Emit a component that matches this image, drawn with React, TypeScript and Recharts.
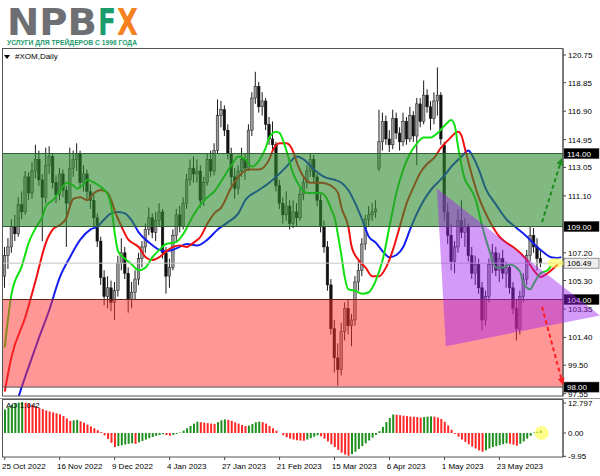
import React from 'react';
import {
    ComposedChart,
    Bar,
    Line,
    XAxis,
    YAxis,
    ReferenceArea,
    ReferenceLine,
    Cell,
} from 'recharts';

// ─── Data ─────────────────────────────────────────────────────────────────────

const dateLabels = [
    '25 Oct 2022', '16 Nov 2022', '9 Dec 2022', '4 Jan 2023', '27 Jan 2023',
    '21 Feb 2023', '15 Mar 2023', '6 Apr 2023', '1 May 2023', '23 May 2023',
];
const dateTickIdx = [0, 16, 32, 48, 64, 80, 96, 112, 128, 144];

const priceTicks = [120.75, 118.85, 116.9, 114.95, 113.05, 111.1, 107.2, 105.3, 103.35, 101.4, 99.5, 97.55];
const aoTicks = [12.797, 0, -9.95];

// daily candles: [open, high, low, close]
const candles = [
    [105.6, 107.6, 104.8, 107.0], [107.0, 108.2, 106.1, 107.6], [107.6, 109.5, 107.2, 109.0], [109.0, 109.8, 108.0, 108.5],
    [108.5, 111.0, 108.3, 110.5], [110.5, 111.4, 109.5, 110.0], [110.0, 112.8, 109.8, 112.4], [112.4, 112.7, 110.8, 111.3],
    [111.3, 113.4, 110.9, 112.8], [112.8, 114.6, 112.3, 113.6], [113.6, 114.2, 111.8, 112.2], [112.2, 112.6, 108.0, 111.0],
    [111.0, 114.4, 110.6, 113.2], [113.2, 114.5, 112.6, 113.8], [113.8, 114.0, 111.6, 112.0], [112.0, 112.5, 110.6, 111.2],
    [111.2, 113.0, 110.8, 112.6], [112.6, 112.9, 111.0, 111.5], [111.5, 111.8, 107.6, 110.6], [110.6, 114.4, 110.2, 113.0],
    [113.0, 114.2, 112.4, 113.6], [113.6, 114.7, 112.8, 114.0], [114.0, 114.2, 111.6, 112.0], [112.0, 113.2, 111.4, 112.6],
    [112.6, 112.9, 110.8, 111.4], [111.4, 111.9, 110.2, 110.8], [110.8, 111.2, 109.0, 109.6], [109.6, 109.9, 107.6, 108.0],
    [108.0, 108.3, 105.0, 105.5], [105.5, 106.0, 103.6, 104.2], [104.2, 105.6, 103.4, 104.8], [104.8, 105.3, 103.2, 103.8],
    [103.8, 105.2, 102.6, 104.6], [104.6, 107.0, 104.2, 106.5], [106.5, 108.2, 106.0, 107.2], [107.2, 107.6, 105.4, 105.8],
    [105.8, 106.2, 103.1, 104.0], [104.0, 105.2, 103.4, 104.5], [104.5, 106.0, 104.0, 105.4], [105.4, 107.2, 105.0, 106.8],
    [106.8, 108.0, 106.2, 107.6], [107.6, 109.2, 107.2, 108.8], [108.8, 110.3, 108.4, 109.6], [109.6, 109.9, 108.2, 108.6],
    [108.6, 110.0, 108.0, 109.4], [109.4, 110.6, 109.0, 110.0], [110.0, 110.2, 106.8, 107.2], [107.2, 107.6, 104.4, 105.6],
    [105.6, 106.8, 104.8, 106.2], [106.2, 108.8, 106.0, 108.4], [108.4, 110.2, 108.0, 109.8], [109.8, 110.4, 108.6, 109.0],
    [109.0, 111.0, 108.8, 110.6], [110.6, 112.6, 110.2, 112.2], [112.2, 113.6, 111.8, 113.0], [113.0, 113.8, 112.0, 112.6],
    [112.6, 113.6, 112.0, 112.8], [112.8, 113.2, 110.3, 110.8], [110.8, 112.4, 110.4, 112.0], [112.0, 114.0, 111.8, 113.6],
    [113.6, 114.2, 112.4, 112.8], [112.8, 114.7, 112.5, 114.2], [114.2, 117.7, 114.0, 116.6], [116.6, 117.6, 115.8, 117.0],
    [117.0, 117.3, 115.2, 115.6], [115.6, 116.0, 113.6, 114.0], [114.0, 114.4, 111.8, 112.4], [112.4, 113.0, 110.9, 111.6],
    [111.6, 113.2, 111.2, 112.8], [112.8, 114.4, 112.4, 113.6], [113.6, 114.0, 112.2, 113.0], [113.0, 116.0, 112.8, 115.6],
    [115.6, 118.2, 115.2, 117.8], [117.8, 119.6, 117.4, 118.6], [118.6, 118.9, 116.8, 117.2], [117.2, 118.2, 116.6, 117.6],
    [117.6, 117.8, 115.6, 116.0], [116.0, 116.5, 114.6, 115.0], [115.0, 116.2, 114.2, 114.6], [114.6, 114.8, 111.4, 111.8],
    [111.8, 112.2, 110.2, 110.6], [110.6, 111.0, 109.2, 109.8], [109.8, 111.4, 109.4, 110.4], [110.4, 110.8, 108.8, 109.2],
    [109.2, 110.8, 108.9, 110.0], [110.0, 110.6, 109.0, 109.6], [109.6, 111.6, 109.4, 111.2], [111.2, 112.4, 110.8, 112.0],
    [112.0, 113.2, 111.6, 112.8], [112.8, 114.0, 112.4, 113.6], [113.6, 113.9, 112.0, 112.4], [112.4, 112.6, 110.4, 110.8],
    [110.8, 111.2, 108.6, 109.0], [109.0, 109.4, 107.2, 107.6], [107.6, 108.0, 104.6, 105.0], [105.0, 105.4, 101.6, 102.0],
    [102.0, 102.6, 99.0, 100.0], [100.0, 101.0, 98.1, 99.2], [99.2, 102.4, 98.8, 101.8], [101.8, 103.8, 101.2, 103.4],
    [103.4, 104.0, 101.6, 102.2], [102.2, 103.0, 100.8, 102.6], [102.6, 105.6, 102.2, 105.2], [105.2, 106.6, 104.6, 106.0],
    [106.0, 108.2, 105.6, 107.8], [107.8, 109.8, 107.4, 109.5], [109.5, 110.4, 109.0, 109.8], [109.8, 110.6, 109.4, 110.0],
    [110.0, 110.8, 109.6, 110.2], [113.0, 117.0, 112.8, 114.8], [114.8, 116.8, 114.2, 116.2], [116.2, 116.6, 114.6, 115.0],
    [115.0, 115.6, 114.1, 114.6], [114.6, 117.0, 114.3, 116.4], [116.4, 116.8, 115.0, 115.4], [115.4, 115.8, 114.2, 114.8],
    [114.8, 116.8, 114.5, 116.2], [116.2, 116.5, 114.6, 115.0], [115.0, 117.2, 114.8, 116.6], [116.6, 116.9, 114.8, 115.2],
    [115.2, 117.8, 113.2, 117.4], [117.4, 117.8, 115.8, 116.2], [116.2, 119.0, 116.0, 118.0], [118.0, 118.4, 116.8, 117.2],
    [117.2, 117.6, 115.6, 116.4], [116.4, 118.2, 116.0, 117.6], [117.6, 119.9, 116.6, 118.0], [118.0, 118.2, 114.6, 115.0],
    [114.6, 114.8, 109.4, 110.0], [110.0, 110.6, 107.8, 108.4], [108.4, 109.2, 106.0, 106.6], [106.6, 108.0, 105.8, 107.6],
    [107.6, 110.2, 107.2, 109.4], [109.4, 110.8, 108.2, 108.6], [108.6, 109.6, 107.6, 109.0], [109.0, 109.2, 106.6, 107.0],
    [107.0, 107.6, 105.4, 105.8], [105.8, 107.0, 105.0, 106.4], [106.4, 106.8, 104.4, 104.8], [104.8, 105.2, 101.9, 102.6],
    [102.6, 104.6, 102.2, 104.2], [104.2, 106.8, 103.8, 106.4], [106.4, 107.8, 105.8, 107.2], [107.2, 107.6, 105.6, 106.0],
    [106.0, 107.2, 105.2, 106.8], [106.8, 107.4, 105.4, 105.8], [105.8, 106.6, 104.8, 106.2], [106.2, 106.4, 104.4, 104.8],
    [104.8, 105.2, 103.0, 103.4], [103.4, 104.0, 101.2, 102.0], [102.0, 104.6, 101.6, 104.2], [104.2, 105.8, 103.8, 105.4],
    [105.4, 107.4, 105.0, 107.0], [107.0, 109.0, 106.6, 108.4], [108.4, 108.9, 107.2, 107.6], [107.6, 108.2, 106.0, 106.8],
    [106.8, 107.4, 106.2, 106.49],
];

// Alligator lines, read as [bar index, price]
const lips = [
    [0, 100.7], [2, 104.4], [5, 106.3], [7, 107.9], [9, 108.9], [11, 109.7], [12, 110.4], [14, 110.8], [16, 111.4],
    [18, 112.0], [20, 111.8], [21, 111.6], [23, 111.9], [24, 112.2], [26, 112.0], [28, 111.7], [30, 111.2], [31, 110.4],
    [32, 108.6], [33, 107.3], [35, 106.8], [37, 106.4], [39, 106.0], [41, 106.2], [43, 106.9], [45, 107.4], [47, 107.8],
    [50, 107.95], [52, 108.5], [55, 109.8], [57, 110.5], [59, 111.0], [61, 111.4], [63, 112.1], [66, 113.2], [68, 113.8],
    [70, 113.6], [72, 113.1], [74, 113.5], [76, 114.4], [77, 115.1], [79, 115.5], [80, 115.4], [82, 114.2], [84, 112.6],
    [86, 111.7], [88, 111.3], [90, 111.3], [92, 111.3], [94, 110.8], [95, 110.2], [96, 109.6], [98, 107.0], [99, 105.5],
    [100, 104.7], [102, 104.6], [104, 104.4], [106, 104.5], [107, 104.8], [108, 105.3], [110, 106.7], [112, 109.0],
    [114, 111.3], [116, 112.9], [118, 114.0], [120, 114.7], [122, 115.1], [124, 115.1], [126, 115.4], [128, 115.9],
    [130, 116.3], [131, 115.9], [132, 114.4], [134, 112.2], [135, 111.8], [137, 110.9], [139, 109.0], [141, 107.4],
    [143, 106.2], [145, 106.2], [147, 106.4], [150, 105.9], [151, 105.1], [153, 104.7], [154, 105.1], [156, 105.8],
    [158, 106.0], [159, 106.3],
];
const teeth = [
    [0, 97.7], [2, 100.1], [6, 102.8], [9, 105.3], [12, 107.9], [14, 108.8], [16, 109.1], [18, 109.6], [19, 110.4],
    [20, 110.9], [22, 111.0], [24, 110.8], [26, 111.3], [28, 111.5], [30, 111.3], [31, 110.8], [32, 110.1], [34, 109.0],
    [36, 108.1], [37, 107.9], [39, 107.6], [41, 106.9], [43, 106.7], [45, 106.9], [47, 107.3], [49, 107.6], [51, 107.7],
    [53, 107.6], [55, 107.9], [57, 108.3], [59, 109.2], [61, 109.9], [63, 110.3], [66, 111.7], [68, 112.4], [71, 112.9],
    [74, 112.9], [77, 113.6], [78, 114.2], [80, 114.7], [82, 114.7], [84, 114.1], [85, 113.4], [87, 112.4], [89, 112.0],
    [92, 112.0], [95, 111.8], [97, 111.3], [98, 110.3], [100, 109.0], [101, 107.6], [103, 106.7], [105, 106.2],
    [107, 105.6], [109, 105.6], [111, 106.2], [113, 107.4], [115, 109.0], [117, 110.6], [119, 111.7], [121, 112.7],
    [123, 113.3], [125, 113.7], [127, 114.4], [129, 114.9], [132, 115.5], [133, 115.2], [134, 114.3], [136, 112.5],
    [138, 111.0], [140, 109.9], [142, 109.0], [144, 108.3], [146, 107.9], [148, 107.6], [150, 107.2], [152, 106.7],
    [154, 106.0], [156, 105.55], [158, 105.8], [160, 106.2], [161, 106.4],
];
const jaw = [
    [3, 96.5], [4, 97.3], [7, 99.4], [10, 101.4], [13, 103.3], [16, 105.5], [19, 106.9], [22, 108.1], [25, 108.8],
    [27, 109.0], [29, 109.5], [31, 109.9], [33, 110.0], [35, 109.9], [37, 109.4], [39, 108.6], [42, 107.9], [45, 107.4],
    [47, 107.3], [50, 107.5], [53, 107.8], [56, 107.7], [59, 108.1], [62, 108.8], [65, 109.3], [68, 109.9], [70, 110.8],
    [74, 111.5], [77, 112.0], [79, 112.4], [82, 113.1], [85, 113.8], [87, 113.6], [90, 112.9], [93, 112.4], [96, 112.2],
    [98, 112.0], [100, 111.5], [102, 110.6], [104, 109.5], [106, 108.3], [108, 107.9], [110, 107.3], [112, 106.9],
    [114, 107.05], [116, 107.6], [118, 108.8], [120, 109.9], [122, 110.8], [124, 111.5], [126, 112.0], [128, 112.5],
    [130, 113.1], [133, 113.8], [135, 114.2], [136, 113.9], [138, 112.9], [140, 111.6], [143, 110.5], [146, 109.5],
    [149, 108.9], [152, 108.3], [155, 107.6], [157, 107.2], [159, 106.9], [161, 106.85], [162, 106.9],
];

// Awesome Oscillator, one value per candle
const aoValues = [
    10.0, 11.0, 12.0, 12.6, 13.0, 13.2, 12.9, 12.5, 12.0, 11.4, 10.8, 10.2, 9.6, 9.2, 8.8, 8.4, 8.0,
    7.2, 6.2, 5.2, 5.4, 5.6, 5.0, 4.4, 3.6, 2.8, 2.0, 1.2, 0.4, -1.0, -2.6, -4.2, -6.0,
    -5.6, -5.2, -4.9, -4.6, -4.4, -4.6, -4.0, -3.4, -2.8, -2.2, -1.7, -1.2, -0.8, -0.5, -0.9, -1.2,
    -0.8, -0.4, 0.2, 1.0, 2.0, 3.0, 4.0, 4.8, 4.6, 4.4, 4.2, 4.0, 3.9, 4.6, 5.4, 5.8,
    5.6, 5.2, 4.6, 4.0, 3.4, 3.0, 3.2, 3.8, 4.6, 4.9, 4.6, 4.0, 3.0, 2.0, 1.0, 0.0, -1.0,
    -1.8, -2.4, -2.8, -3.1, -3.2, -3.3, -2.8, -2.2, -1.6, -1.0, -1.4, -2.4, -3.6, -4.8,
    -6.0, -7.2, -8.4, -9.2, -9.7, -9.0, -8.0, -6.8, -5.6, -4.4, -3.2, -2.0, -0.8,
    0.8, 2.6, 4.6, 6.4, 7.9, 7.8, 7.6, 7.4, 7.2, 7.0, 6.9, 6.8, 6.6, 6.8, 7.0, 7.1, 7.0, 6.6, 6.0,
    4.8, 3.2, 1.4, -0.4, -1.6, -2.8, -3.8, -4.8, -5.8, -6.6, -7.4, -8.0,
    -7.4, -6.6, -6.0, -5.6, -5.2, -4.8, -4.4, -4.6, -5.0, -5.4, -4.6, -3.6, -2.4, -1.2, 0.2, 0.6, 1.042,
];

const greenZone = [109, 114];
const redZone = [98, 104];
const lastPrice = 106.49;

// annotations in [bar index, price]
const triangle = [[125.8, 111.6], [128.4, 100.8], [173.3, 102.9]];
const upArrow = [[156.4, 109.3], [162.2, 113.7]];
const downArrow = [[156.4, 103.5], [162.5, 98.15]];
const highlight = [160.4, 106.5];
const aoHighlight = [156.3, 0];

// ─── Layout ───────────────────────────────────────────────────────────────────

const W = 600;
const PLOT_L = 3;
const AXIS_W = 37;
const PLOT_R = W - AXIS_W;
const MAIN_TOP = 49;
const MAIN_BOTTOM = 396;
const SLOTS = 163;
const PRICE_MIN = 97.39;
const PRICE_MAX = 121.16;
const AO_TOP = 400;
const AO_BOTTOM = 457;
const AO_MIN = -10.24;
const AO_MAX = 14.08;
const FONT = '"Liberation Sans", Arial, sans-serif';

const BAND = (PLOT_R - PLOT_L) / SLOTS;
const px = (i: number) => PLOT_L + (i + 0.5) * BAND;
const py = (v: number) => MAIN_TOP + ((PRICE_MAX - v) / (PRICE_MAX - PRICE_MIN)) * (MAIN_BOTTOM - MAIN_TOP);
const ay = (v: number) => AO_TOP + ((AO_MAX - v) / (AO_MAX - AO_MIN)) * (AO_BOTTOM - AO_TOP);

const rows: any[] = Array.from({ length: SLOTS }, (_, i) => {
    const k = candles[i];
    return k
        ? { i, o: k[0], h: k[1], l: k[2], c: k[3], range: [k[2], k[1]], ao: aoValues[i] }
        : { i };
});
lips.forEach(([i, v]) => (rows[i].lips = v));
teeth.forEach(([i, v]) => (rows[i].teeth = v));
jaw.forEach(([i, v]) => (rows[i].jaw = v));

// ─── Shapes ───────────────────────────────────────────────────────────────────

const Candle = (props: any) => {
    const { x, y, width, height, payload } = props;
    if (!payload || payload.h == null || !isFinite(y)) return null;
    const { o, h, l, c } = payload;
    const k = height / (h - l || 1);
    const cx = x + width / 2;
    const top = y + (h - Math.max(o, c)) * k;
    const bot = y + (h - Math.min(o, c)) * k;
    const bull = c >= o;
    return (
        <g>
            <line x1={cx} x2={cx} y1={y} y2={y + height} stroke="#1a1a1a" strokeWidth={1} />
            <rect
                x={cx - 1.3}
                y={top}
                width={2.6}
                height={Math.max(bot - top, 0.8)}
                fill={bull ? '#9a9a9a' : '#111'}
                stroke="#1a1a1a"
                strokeWidth={0.5}
            />
        </g>
    );
};

const PriceTick = (p: any) => (
    <text x={p.x} y={p.y + 3} fontSize={8} fontFamily={FONT} fill="#000">
        {Number(p.payload.value).toFixed(2)}
    </text>
);

const AoTick = (p: any) => {
    const v = p.payload.value;
    const label = v === 0 ? '0.00' : String(v);
    return (
        <text x={p.x} y={Math.min(p.y + 3, 455)} fontSize={8} fontFamily={FONT} fill="#000">
            {label}
        </text>
    );
};

const DateTick = (p: any) => {
    const idx = dateTickIdx.indexOf(p.payload.value);
    return (
        <text x={p.x - BAND / 2 - 1} y={p.y + 7} fontSize={8} fontFamily={FONT} fill="#000">
            {dateLabels[idx]}
        </text>
    );
};

const PriceBox = (p: any) => {
    const { viewBox, text, bg, fg } = p;
    if (!viewBox) return null;
    const x = viewBox.x + viewBox.width + 1;
    return (
        <g>
            <rect x={x} y={viewBox.y - 5} width={35} height={10} fill={bg} stroke="#333" strokeWidth={0.5} />
            <text x={x + 3} y={viewBox.y + 3} fontSize={8} fontFamily={FONT} fill={fg}>
                {text}
            </text>
        </g>
    );
};

const Arrow: React.FC<{ from: number[]; to: number[]; color: string }> = ({ from, to, color }) => {
    const x1 = px(from[0]);
    const y1 = py(from[1]);
    const x2 = px(to[0]);
    const y2 = py(to[1]);
    const a = Math.atan2(y2 - y1, x2 - x1);
    const len = 7;
    const half = 3.5;
    const bx = x2 - len * Math.cos(a);
    const by = y2 - len * Math.sin(a);
    const pts = [
        [x2, y2],
        [bx + half * Math.sin(a), by - half * Math.cos(a)],
        [bx - half * Math.sin(a), by + half * Math.cos(a)],
    ];
    return (
        <g>
            <line x1={x1} y1={y1} x2={bx} y2={by} stroke={color} strokeWidth={2} strokeDasharray="4 3" />
            <polygon points={pts.map((q) => q.join(',')).join(' ')} fill={color} />
        </g>
    );
};

// ─── Component ────────────────────────────────────────────────────────────────

export default function App() {
    return (
        <div style={{ position: 'absolute', left: 0, top: 0, width: W, height: 476, background: '#fff', fontFamily: FONT }}>
            {/* Price panel */}
            <div style={{ position: 'absolute', left: 0, top: 0 }}>
                <ComposedChart
                    width={W}
                    height={MAIN_BOTTOM + 4}
                    data={rows}
                    margin={{ top: MAIN_TOP, right: 0, bottom: 4, left: PLOT_L }}
                    barCategoryGap={0}
                >
                    <XAxis dataKey="i" hide />
                    <YAxis
                        orientation="right"
                        width={AXIS_W}
                        domain={[PRICE_MIN, PRICE_MAX]}
                        ticks={priceTicks}
                        interval={0}
                        allowDataOverflow
                        tick={<PriceTick />}
                        tickSize={3}
                        tickLine={{ stroke: '#444' }}
                        axisLine={{ stroke: '#444' }}
                    />
                    <Bar dataKey="range" barSize={3} shape={<Candle />} isAnimationActive={false} />
                    <Line dataKey="jaw" type="monotone" stroke="#1420f0" strokeWidth={2} dot={false} connectNulls isAnimationActive={false} />
                    <Line dataKey="teeth" type="monotone" stroke="#f01010" strokeWidth={2} dot={false} connectNulls isAnimationActive={false} />
                    <Line dataKey="lips" type="monotone" stroke="#10e010" strokeWidth={2} dot={false} connectNulls isAnimationActive={false} />
                    <ReferenceArea y1={greenZone[0]} y2={greenZone[1]} fill="#2e8b2e" fillOpacity={0.6} stroke="none" zIndex={1000} />
                    <ReferenceArea y1={redZone[0]} y2={redZone[1]} fill="#ff3030" fillOpacity={0.5} stroke="none" zIndex={1000} />
                    <ReferenceLine y={lastPrice} stroke="#c4c4c4" zIndex={1100} label={<PriceBox text="106.49" bg="#eeeeee" fg="#000" />} />
                    <ReferenceLine y={greenZone[1]} stroke="#2f5f2f" zIndex={1100} label={<PriceBox text="114.00" bg="#000" fg="#fff" />} />
                    <ReferenceLine y={greenZone[0]} stroke="#2f5f2f" zIndex={1100} label={<PriceBox text="109.00" bg="#000" fg="#fff" />} />
                    <ReferenceLine y={redZone[1]} stroke="#6b1e1e" zIndex={1100} label={<PriceBox text="104.00" bg="#000" fg="#fff" />} />
                    <ReferenceLine y={redZone[0]} stroke="#555" zIndex={1100} label={<PriceBox text="98.00" bg="#000" fg="#fff" />} />
                </ComposedChart>
            </div>

            {/* Awesome Oscillator panel */}
            <div style={{ position: 'absolute', left: 0, top: AO_TOP }}>
                <ComposedChart
                    width={W}
                    height={476 - AO_TOP}
                    data={rows}
                    margin={{ top: 0, right: 0, bottom: 0, left: PLOT_L }}
                    barCategoryGap={0}
                >
                    <XAxis
                        dataKey="i"
                        ticks={dateTickIdx}
                        interval={0}
                        height={476 - AO_BOTTOM}
                        tick={<DateTick />}
                        tickSize={3}
                        tickLine={{ stroke: '#444' }}
                        axisLine={false}
                    />
                    <YAxis
                        orientation="right"
                        width={AXIS_W}
                        domain={[AO_MIN, AO_MAX]}
                        ticks={aoTicks}
                        interval={0}
                        allowDataOverflow
                        tick={<AoTick />}
                        tickSize={3}
                        tickLine={{ stroke: '#444' }}
                        axisLine={{ stroke: '#444' }}
                    />
                    <Bar dataKey="ao" barSize={2} isAnimationActive={false}>
                        {rows.map((r, i) => (
                            <Cell
                                key={i}
                                fill={i === 0 || (r.ao ?? 0) > (rows[i - 1].ao ?? 0) ? '#1f8f1f' : '#ff2626'}
                            />
                        ))}
                    </Bar>
                </ComposedChart>
            </div>

            {/* Frames, drawn objects and labels */}
            <svg width={W} height={476} style={{ position: 'absolute', left: 0, top: 0, pointerEvents: 'none' }}>
                <rect x={PLOT_L - 0.5} y={MAIN_TOP - 0.5} width={PLOT_R - PLOT_L + 0.5} height={MAIN_BOTTOM - MAIN_TOP + 0.5} fill="none" stroke="#555" />
                <line x1={0} x2={W} y1={MAIN_BOTTOM + 2.5} y2={MAIN_BOTTOM + 2.5} stroke="#999" />
                <rect x={PLOT_L - 0.5} y={AO_TOP - 0.5} width={PLOT_R - PLOT_L + 0.5} height={AO_BOTTOM - AO_TOP + 0.5} fill="none" stroke="#555" />

                <polygon
                    points={triangle.map(([i, v]) => `${px(i)},${py(v)}`).join(' ')}
                    fill="#a020f0"
                    fillOpacity={0.45}
                />
                <Arrow from={upArrow[0]} to={upArrow[1]} color="#1e8c1e" />
                <Arrow from={downArrow[0]} to={downArrow[1]} color="#ff2020" />
                <ellipse cx={px(highlight[0])} cy={py(highlight[1])} rx={8} ry={5} fill="#ffff40" fillOpacity={0.55} />
                <circle cx={px(aoHighlight[0])} cy={ay(aoHighlight[1])} r={7} fill="#ffff40" fillOpacity={0.6} />

                <polygon points="4,55 10,55 7,59" fill="#000" />
                <text x={15} y={59} fontSize={8} fontFamily={FONT} fill="#000">#XOM,Daily</text>
                <text x={6} y={408} fontSize={8} fontFamily={FONT} fill="#000">AO 1.042</text>

                {/* logo */}
                <text x={7} y={35} fontSize={38} fontWeight="bold" fontFamily="DejaVu Sans" fill="#6e6f72" textLength={90} lengthAdjust="spacingAndGlyphs">NPB</text>
                <text x={98} y={35} fontSize={38} fontWeight="bold" fontFamily="DejaVu Sans" fill="#1a9c6c" textLength={18} lengthAdjust="spacingAndGlyphs">F</text>
                <text x={117} y={35} fontSize={38} fontWeight="bold" fontFamily="DejaVu Sans" fill="#f5821f" textLength={21} lengthAdjust="spacingAndGlyphs">X</text>
                <text x={7} y={44.5} fontSize={6.8} fontWeight="bold" fontFamily={FONT} fill="#1a9c6c" textLength={130} lengthAdjust="spacingAndGlyphs">
                    УСЛУГИ ДЛЯ ТРЕЙДЕРОВ С 1996 ГОДА
                </text>
            </svg>
        </div>
    );
}
